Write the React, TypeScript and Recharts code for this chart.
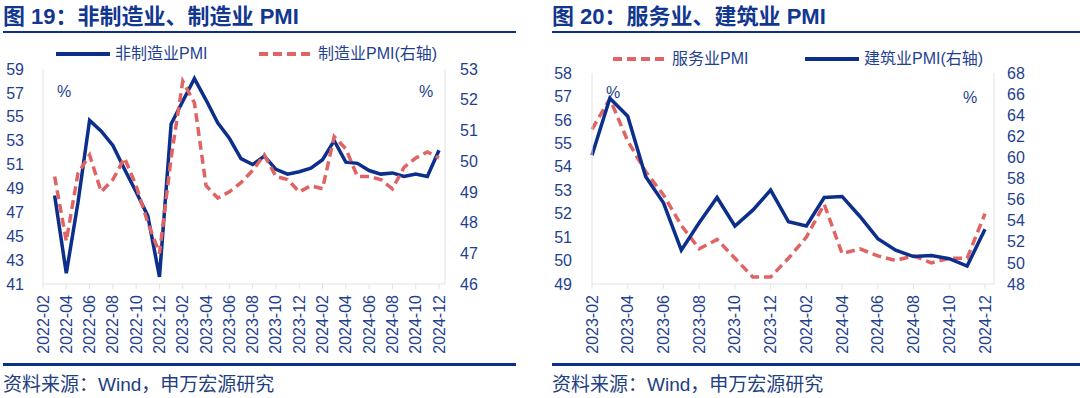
import { LineChart, Line, XAxis, YAxis } from 'recharts'

// 非制造业 / 制造业 PMI, 2022-02 ~ 2024-12 (2022-02 无数据)
const monthsA = [
  '2022-02', '2022-03', '2022-04', '2022-05', '2022-06', '2022-07', '2022-08', '2022-09', '2022-10', '2022-11', '2022-12',
  '2023-01', '2023-02', '2023-03', '2023-04', '2023-05', '2023-06', '2023-07', '2023-08', '2023-09', '2023-10', '2023-11', '2023-12',
  '2024-01', '2024-02', '2024-03', '2024-04', '2024-05', '2024-06', '2024-07', '2024-08', '2024-09', '2024-10', '2024-11', '2024-12',
]
const nonMfgPmi = [
  null, 48.4, 41.9, 47.8, 54.7, 53.8, 52.6, 50.6, 48.7, 46.7, 41.6,
  54.4, 56.3, 58.2, 56.4, 54.5, 53.2, 51.5, 51.0, 51.7, 50.6, 50.2, 50.4,
  50.7, 51.4, 53.0, 51.2, 51.1, 50.5, 50.2, 50.3, 50.0, 50.2, 50.0, 52.2,
]
const mfgPmi = [
  null, 49.5, 47.4, 49.6, 50.2, 49.0, 49.4, 50.1, 49.2, 48.0, 47.0,
  50.1, 52.6, 51.9, 49.2, 48.8, 49.0, 49.3, 49.7, 50.2, 49.5, 49.4, 49.0,
  49.2, 49.1, 50.8, 50.4, 49.5, 49.5, 49.4, 49.1, 49.8, 50.1, 50.3, 50.1,
]

// 服务业 / 建筑业 PMI, 2023-02 ~ 2024-12
const monthsB = [
  '2023-02', '2023-03', '2023-04', '2023-05', '2023-06', '2023-07', '2023-08', '2023-09', '2023-10', '2023-11', '2023-12',
  '2024-01', '2024-02', '2024-03', '2024-04', '2024-05', '2024-06', '2024-07', '2024-08', '2024-09', '2024-10', '2024-11', '2024-12',
]
const servicePmi = [
  55.6, 56.9, 55.1, 53.8, 52.8, 51.5, 50.5, 50.9, 50.1, 49.3, 49.3,
  50.1, 51.0, 52.4, 50.3, 50.5, 50.2, 50.0, 50.2, 49.9, 50.1, 50.1, 52.0,
]
const constructionPmi = [
  60.2, 65.6, 63.9, 58.2, 55.7, 51.2, 53.8, 56.2, 53.5, 55.0, 56.9,
  53.9, 53.5, 56.2, 56.3, 54.4, 52.3, 51.2, 50.6, 50.7, 50.4, 49.7, 53.2,
]

const ticksA = [41, 43, 45, 47, 49, 51, 53, 55, 57, 59]
const ticksARight = [46, 47, 48, 49, 50, 51, 52, 53]
const ticksB = [49, 50, 51, 52, 53, 54, 55, 56, 57, 58]
const ticksBRight = [48, 50, 52, 54, 56, 58, 60, 62, 64, 66, 68]

const dataA = monthsA.map((m, i) => ({ month: m, nonMfg: nonMfgPmi[i], mfg: mfgPmi[i] }))
const dataB = monthsB.map((m, i) => ({ month: m, service: servicePmi[i], construction: constructionPmi[i] }))

const NAVY = '#0b2f8a'
const RED = '#e06464'
const TEXT = '#1f3f8f'
const AXIS = '#e2e2e2'
const FONT = '"Liberation Sans", Arial, "Noto Sans CJK SC", sans-serif'

const DateTick = (props: any) => {
  const { x, y, payload } = props
  return (
    <text
      x={x}
      y={y}
      transform={`rotate(-90, ${x}, ${y})`}
      textAnchor="end"
      dominantBaseline="central"
      fill={TEXT}
      fontSize={16}
      fontFamily={FONT}
    >
      {payload.value}
    </text>
  )
}

const LegendItem = ({ left, top, color, dashed, label }: any) => (
  <div style={{ position: 'absolute', left, top, display: 'flex', alignItems: 'center', whiteSpace: 'nowrap' }}>
    <svg width={56} height={8} style={{ display: 'block' }}>
      <line
        x1={1}
        y1={4}
        x2={55}
        y2={4}
        stroke={color}
        strokeWidth={4}
        strokeDasharray={dashed ? '9 5' : undefined}
      />
    </svg>
    <span style={{ marginLeft: 4, fontSize: 16, color: TEXT, lineHeight: '20px' }}>{label}</span>
  </div>
)

const Frame = ({ left, width, title, children }: any) => (
  <div style={{ position: 'absolute', left, top: 0, width, height: 398 }}>
    <div
      style={{
        position: 'absolute',
        left: 0,
        top: 3,
        fontSize: 22,
        fontWeight: 700,
        lineHeight: '28px',
        color: '#12378f',
        whiteSpace: 'nowrap',
      }}
    >
      {title}
    </div>
    <div style={{ position: 'absolute', left: 0, top: 31, width: '100%', height: 2, background: NAVY }} />
    {children}
    <div style={{ position: 'absolute', left: 0, top: 363, width: '100%', height: 3, background: NAVY }} />
    <div
      style={{
        position: 'absolute',
        left: 0,
        top: 373,
        fontSize: 19,
        lineHeight: '24px',
        color: '#22407f',
        whiteSpace: 'nowrap',
      }}
    >
      资料来源：Wind，申万宏源研究
    </div>
  </div>
)

const pct = (left: number, top: number) => (
  <div style={{ position: 'absolute', left, top, fontSize: 16, color: TEXT, lineHeight: '20px' }}>%</div>
)

export default function App() {
  return (
    <div
      style={{
        position: 'absolute',
        left: 0,
        top: 0,
        width: 1080,
        height: 398,
        background: '#fff',
        fontFamily: FONT,
        overflow: 'hidden',
      }}
    >
      <Frame left={3} width={513} title="图 19：非制造业、制造业 PMI">
        <LegendItem left={52} top={44} color={NAVY} label="非制造业PMI" />
        <LegendItem left={255} top={44} color={RED} dashed label="制造业PMI(右轴)" />
        <div style={{ position: 'absolute', left: -3, top: 0 }}>
          <LineChart width={540} height={398} data={dataA} margin={{ top: 69, right: 45, bottom: 34, left: 0 }}>
            <XAxis
              dataKey="month"
              interval={1}
              height={80}
              padding={{ left: 0, right: 6 }}
              stroke={AXIS}
              tickSize={5}
              tickMargin={6}
              tick={<DateTick />}
            />
            <YAxis
              yAxisId="left"
              domain={[41, 59]}
              ticks={ticksA}
              interval={0}
              width={43}
              stroke={AXIS}
              tickLine={false}
              tickMargin={13}
              tick={{ fill: TEXT, fontSize: 16, fontFamily: FONT }}
            />
            <YAxis
              yAxisId="right"
              orientation="right"
              domain={[46, 53]}
              ticks={ticksARight}
              interval={0}
              width={50}
              stroke={AXIS}
              tickLine={false}
              tickMargin={9}
              tick={{ fill: TEXT, fontSize: 16, fontFamily: FONT, textAnchor: 'start' }}
            />
            <Line
              yAxisId="left"
              dataKey="nonMfg"
              type="linear"
              stroke={NAVY}
              strokeWidth={3.5}
              dot={false}
              isAnimationActive={false}
            />
            <Line
              yAxisId="right"
              dataKey="mfg"
              type="linear"
              stroke={RED}
              strokeWidth={3.5}
              strokeDasharray="9 5"
              dot={false}
              isAnimationActive={false}
            />
          </LineChart>
        </div>
        {pct(54, 82)}
        {pct(416, 82)}
      </Frame>

      <Frame left={552} width={528} title="图 20：服务业、建筑业 PMI">
        <LegendItem left={60} top={49} color={RED} dashed label="服务业PMI" />
        <LegendItem left={252} top={49} color={NAVY} label="建筑业PMI(右轴)" />
        <div style={{ position: 'absolute', left: -12, top: 0 }}>
          <LineChart width={540} height={398} data={dataB} margin={{ top: 73, right: 36, bottom: 34, left: 0 }}>
            <XAxis
              dataKey="month"
              interval={1}
              height={80}
              padding={{ left: 0, right: 9 }}
              stroke={AXIS}
              tickSize={5}
              tickMargin={6}
              tick={<DateTick />}
            />
            <YAxis
              yAxisId="left"
              domain={[49, 58]}
              ticks={ticksB}
              interval={0}
              width={52}
              stroke={AXIS}
              tickLine={false}
              tickMargin={14}
              tick={{ fill: TEXT, fontSize: 16, fontFamily: FONT }}
            />
            <YAxis
              yAxisId="right"
              orientation="right"
              domain={[48, 68]}
              ticks={ticksBRight}
              interval={0}
              width={50}
              stroke={AXIS}
              tickLine={false}
              tickMargin={7}
              tick={{ fill: TEXT, fontSize: 16, fontFamily: FONT, textAnchor: 'start' }}
            />
            <Line
              yAxisId="left"
              dataKey="service"
              type="linear"
              stroke={RED}
              strokeWidth={3.5}
              strokeDasharray="9 5"
              dot={false}
              isAnimationActive={false}
            />
            <Line
              yAxisId="right"
              dataKey="construction"
              type="linear"
              stroke={NAVY}
              strokeWidth={3.5}
              dot={false}
              isAnimationActive={false}
            />
          </LineChart>
        </div>
        {pct(54, 83)}
        {pct(411, 88)}
      </Frame>
    </div>
  )
}
